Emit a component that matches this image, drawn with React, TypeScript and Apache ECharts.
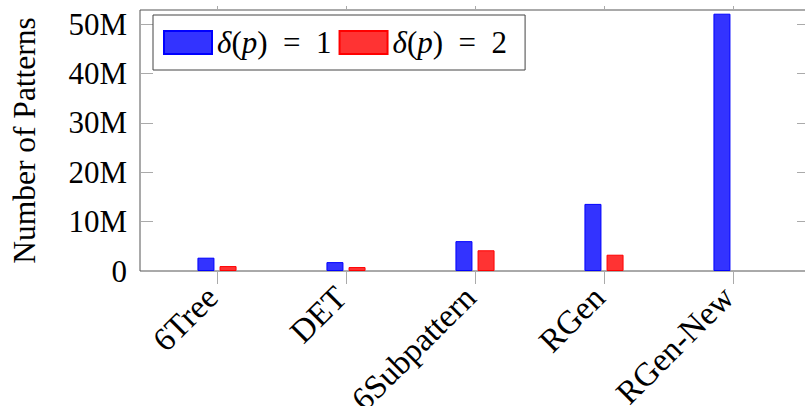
import React, { useEffect, useRef } from "react";
import * as echarts from "echarts";

const categories = ["6Tree", "DET", "6Subpattern", "RGen", "RGen-New"];
const seriesNames = ["δ(p) = 1", "δ(p) = 2"];
// values in millions
const delta1 = [2.7, 1.8, 6.05, 13.6, 52.15];
const delta2: (number | null)[] = [1.0, 0.8, 4.2, 3.3, null];
const yMax = 52.9;
const yInterval = 10;

const FONT = "Liberation Serif";

export default function App() {
  const ref = useRef<HTMLDivElement>(null);
  useEffect(() => {
    if (!ref.current) return;
    const chart = echarts.init(ref.current, null, { renderer: "svg" });
    const tickStyle = { color: "#aaaaaa", width: 1 };
    const option: any = {
      animation: false,
      backgroundColor: "#ffffff",
      grid: [
        { left: 140, right: -5, top: 10, bottom: 135, show: true, borderColor: "#555555", borderWidth: 1, backgroundColor: "transparent", containLabel: false, outerBoundsMode: "none" },
        { left: 152.5, right: 7.5, top: 10, bottom: 135, containLabel: false, outerBoundsMode: "none" },
      ],
      legend: {
        left: 153,
        top: 15,
        orient: "horizontal",
        itemWidth: 48,
        itemHeight: 23,
        itemGap: 7,
        padding: [12, 18, 12, 10],
        borderColor: "#444444",
        borderWidth: 1,
        backgroundColor: "#ffffff",
        icon: "rect",
        data: seriesNames,
        formatter: (name: string) =>
          name === seriesNames[0] ? "{i|δ}({i|p})\u2002=\u20021" : "{i|δ}({i|p})\u2002=\u20022",
        textStyle: {
          fontFamily: FONT,
          fontSize: 31,
          color: "#000",
          rich: { i: { fontFamily: FONT, fontStyle: "italic", fontSize: 31, color: "#000" } },
        },
      },
      xAxis: [
        { gridIndex: 0, type: "value", min: 0, max: 1, show: false },
        {
          gridIndex: 1,
          type: "category",
          data: categories,
          position: "bottom",
          axisLine: { show: false },
          axisTick: { show: true, alignWithLabel: true, length: 13, lineStyle: tickStyle },
          axisLabel: { interval: 0, rotate: 45, margin: 16, padding: [0, 7, 0, 0], fontFamily: FONT, fontSize: 33, color: "#000" },
        },
        {
          gridIndex: 1,
          type: "category",
          data: categories,
          position: "top",
          axisLine: { show: false },
          axisTick: { show: true, alignWithLabel: true, length: 4, lineStyle: tickStyle },
          axisLabel: { show: false },
        },
      ],
      yAxis: [
        {
          gridIndex: 0,
          type: "value",
          min: 0,
          max: yMax,
          interval: yInterval,
          position: "left",
          axisLine: { show: false },
          splitLine: { show: false },
          axisTick: { show: true, inside: true, length: 13, lineStyle: tickStyle },
          axisLabel: {
            showMaxLabel: false,
            margin: 13,
            fontFamily: FONT,
            fontSize: 31,
            color: "#000",
            formatter: (v: number) => (v % yInterval !== 0 ? "" : v === 0 ? "0" : `${v}M`),
          },
          name: "Number of Patterns",
          nameLocation: "middle",
          nameGap: 100,
          nameTextStyle: { fontFamily: FONT, fontSize: 31.5, color: "#000" },
        },
        {
          gridIndex: 0,
          type: "value",
          min: 0,
          max: yMax,
          interval: yInterval,
          position: "right",
          axisLine: { show: false },
          splitLine: { show: false },
          axisTick: { show: true, inside: true, length: 13, lineStyle: tickStyle },
          axisLabel: { show: false },
        },
        { gridIndex: 1, type: "value", min: 0, max: yMax, show: false },
      ],
      series: [
        {
          name: seriesNames[0],
          type: "bar",
          xAxisIndex: 1,
          yAxisIndex: 2,
          data: delta1,
          barWidth: 17,
          barGap: "30%",
          itemStyle: { color: "rgb(51,51,255)", borderColor: "#0000ff", borderWidth: 1 },
        },
        {
          name: seriesNames[1],
          type: "bar",
          xAxisIndex: 1,
          yAxisIndex: 2,
          data: delta2,
          barWidth: 17,
          barGap: "30%",
          itemStyle: { color: "rgb(255,51,51)", borderColor: "#ff0000", borderWidth: 1 },
        },
      ],
    };
    chart.setOption(option);
    return () => chart.dispose();
  }, []);
  return <div ref={ref} style={{ position: "fixed", left: 0, top: 0, width: 805, height: 406 }} />;
}
